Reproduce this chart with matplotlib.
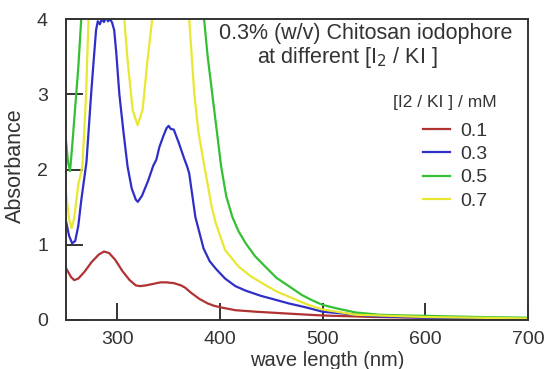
import numpy as np
import matplotlib
matplotlib.use('Agg')
import matplotlib.pyplot as plt

plt.rcParams['font.family'] = ['Liberation Sans', 'DejaVu Sans']

# valeurs (longueur d'onde en nm, absorbance)
wl_01 = [250, 255, 258, 262, 268, 275, 282, 287, 292, 298, 305, 312, 318, 322,
         328, 335, 342, 348, 355, 362, 366, 372, 380, 388, 394, 400, 415, 435,
         460, 486, 500, 550, 600, 650, 700]
abs_01 = [0.69, 0.57, 0.53, 0.55, 0.64, 0.77, 0.87, 0.91, 0.89, 0.80, 0.65, 0.53,
          0.46, 0.45, 0.46, 0.48, 0.50, 0.50, 0.49, 0.46, 0.43, 0.36, 0.28, 0.22,
          0.19, 0.17, 0.13, 0.11, 0.09, 0.07, 0.06, 0.04, 0.03, 0.02, 0.015]

wl_03 = [250, 253, 256, 259, 262, 265, 268, 270, 274.5, 277, 279.3, 281, 283,
         285, 287, 289, 291, 293, 295, 297, 299, 302, 306, 310, 314, 318, 320,
         324, 330, 335, 338, 341, 345, 348, 350, 352, 355, 360, 365, 368, 370,
         376, 384, 390, 396, 405, 415, 425, 440, 451, 467, 483, 500, 550, 600,
         650, 700]
abs_03 = [1.32, 1.12, 1.02, 1.05, 1.25, 1.6, 1.9, 2.1, 3.0, 3.45, 3.85, 3.97,
          3.93, 4.0, 3.96, 4.02, 3.97, 4.0, 3.95, 3.85, 3.55, 3.0, 2.5, 2.04,
          1.75, 1.6, 1.57, 1.65, 1.85, 2.05, 2.13, 2.3, 2.45, 2.55, 2.58, 2.54,
          2.53, 2.35, 2.15, 2.04, 1.95, 1.37, 0.95, 0.78, 0.68, 0.55, 0.45, 0.39,
          0.32, 0.28, 0.22, 0.17, 0.11, 0.05, 0.03, 0.02, 0.015]

wl_05 = [250, 252, 254, 256, 258, 260, 262, 264.8, 267, 380, 384.5, 388, 392.5,
         397, 401, 406, 412, 418, 425, 434, 444, 455, 467, 480, 490, 500, 515,
         532, 555, 580, 600, 650, 700]
abs_05 = [2.39, 2.1, 1.98, 2.3, 2.65, 3.0, 3.35, 3.98, 4.3, 4.3, 4.0, 3.5, 3.0,
          2.5, 2.05, 1.65, 1.37, 1.18, 1.02, 0.85, 0.71, 0.56, 0.45, 0.33, 0.26,
          0.2, 0.15, 0.1, 0.07, 0.06, 0.055, 0.04, 0.03]

wl_07 = [250, 253, 255.5, 258, 262, 266, 269.6, 272, 274, 305, 306.8, 310, 315,
         319.7, 324.6, 329.4, 334, 336, 368, 370, 375, 379, 384, 388, 392, 396,
         405, 418, 430, 441, 455, 467, 486, 500, 532, 600, 650, 700]
abs_07 = [1.7, 1.35, 1.22, 1.35, 1.8, 2.04, 3.0, 4.0, 4.3, 4.3, 4.0, 3.45, 2.79,
          2.59, 2.79, 3.45, 4.0, 4.3, 4.3, 4.0, 3.0, 2.5, 2.1, 1.8, 1.5, 1.28,
          0.93, 0.71, 0.58, 0.49, 0.38, 0.31, 0.2, 0.14, 0.07, 0.04, 0.03, 0.02]

series = [
    ('0.1', wl_01, abs_01, '#b03232'),
    ('0.3', wl_03, abs_03, '#2f2fc8'),
    ('0.5', wl_05, abs_05, '#34c034'),
    ('0.7', wl_07, abs_07, '#e8e832'),
]

txt = '#333333'
W, H = 545, 369

fig = plt.figure(figsize=(5.45, 3.69), dpi=100)
ax = fig.add_axes([0.121, 0.1328, 0.848, 0.8157])

for label, x, y, c in series:
    ax.plot(x, y, color=c, lw=1.6, label=label)

ax.set_xlim(250, 700)
ax.set_ylim(0, 4)
ax.set_xticks([300, 400, 500, 600, 700])
ax.set_yticks([0, 1, 2, 3, 4])

for s in ax.spines.values():
    s.set_color(txt)
    s.set_linewidth(1.4)
ax.tick_params(direction='in', length=12, width=1.4, color=txt,
               labelsize=14, labelcolor=txt)
ax.tick_params(axis='x', pad=8)
ax.tick_params(axis='y', pad=13)

# titres des axes
fig.text(327 / W, 1 - 366 / H, 'wave length (nm)', ha='center', va='baseline',
         fontsize=14.5, color=txt)
fig.text(15 / W, 1 - 166 / H, 'Absorbance', ha='center', va='center',
         rotation=90, fontsize=15.5, color=txt)

# texte dans le cadre
fig.text(366 / W, 1 - 33 / H, '0.3% (w/v) Chitosan iodophore',
         ha='center', va='center', fontsize=15.5, color=txt)
fig.text(347 / W, 1 - 57 / H, 'at different [I$_2$ / KI ]',
         ha='center', va='center', fontsize=15.5, color=txt)
fig.text(445 / W, 1 - 103 / H, '[I2 / KI ] / mM',
         ha='center', va='center', fontsize=12.5, color=txt)

leg = ax.legend(loc='upper left', bbox_to_anchor=(423 / W, 1 - 122 / H),
                bbox_transform=fig.transFigure, frameon=False,
                fontsize=14, handlelength=1.4, handletextpad=0.5,
                labelspacing=0.3, borderpad=0, borderaxespad=0)
for t in leg.get_texts():
    t.set_color(txt)

fig.savefig('out.png', dpi=100)
